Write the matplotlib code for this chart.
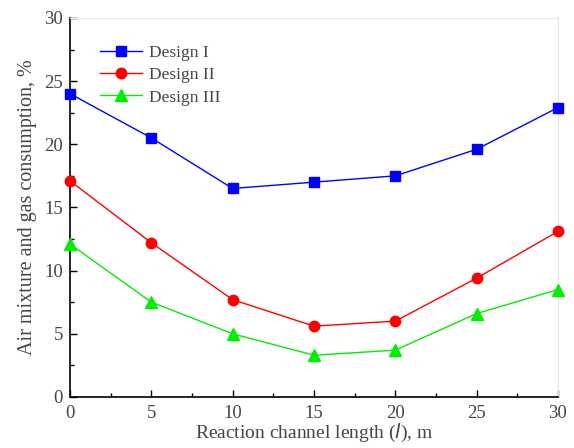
import matplotlib
matplotlib.use("Agg")
import matplotlib.pyplot as plt
from matplotlib.ticker import MultipleLocator

lengths = [0, 5, 10, 15, 20, 25, 30]
design_1 = [24.0, 20.5, 16.5, 17.0, 17.5, 19.6, 22.9]
design_2 = [17.1, 12.2, 7.7, 5.6, 6.0, 9.4, 13.1]
design_3 = [12.1, 7.5, 5.0, 3.3, 3.7, 6.6, 8.5]

plt.rcParams['font.family'] = ['Liberation Serif', 'DejaVu Serif']
txt = '#444444'

fig = plt.figure(figsize=(5.74, 4.48), dpi=100)
ax = fig.add_axes([0.122, 0.114, 0.850, 0.846])

ax.plot(lengths, design_1, color='#0000ff', lw=1, marker='s', ms=7,
        label='Design I', clip_on=False, zorder=3)
ax.plot(lengths, design_2, color='#ff0000', lw=1, marker='o', ms=7.5,
        label='Design II', clip_on=False, zorder=3)
ax.plot(lengths, design_3, color='#00ee00', lw=1, marker='^', ms=8,
        label='Design III', clip_on=False, zorder=3)

ax.set_xlim(0, 30)
ax.set_ylim(0, 30)
ax.xaxis.set_major_locator(MultipleLocator(5))
ax.xaxis.set_minor_locator(MultipleLocator(2.5))
ax.yaxis.set_major_locator(MultipleLocator(5))
ax.yaxis.set_minor_locator(MultipleLocator(2.5))
ax.tick_params(which='both', direction='in', color='black', labelcolor=txt,
               labelsize=13.5, top=False, right=False)
ax.tick_params(which='major', length=5, width=1)
ax.tick_params(which='minor', length=3, width=1)
ax.tick_params(axis='x', which='major', pad=6)
ax.tick_params(axis='y', which='major', pad=5)

for side in ['top', 'right']:
    ax.spines[side].set_color('#e6e6e6')
for side in ['left', 'bottom']:
    ax.spines[side].set_linewidth(1.2)

ax.set_xlabel('Reaction channel length ($\\mathit{l}$), m', fontsize=14,
              color=txt, labelpad=0)
ax.set_ylabel('Air mixture and gas consumption, %', fontsize=14.5,
              color=txt, labelpad=5)

leg = ax.legend(loc='upper left', bbox_to_anchor=(0.03, 0.97), frameon=False,
                fontsize=12.5, handlelength=2.4, handletextpad=0.4,
                labelspacing=0.35)
for t in leg.get_texts():
    t.set_color(txt)

fig.savefig('out.png', dpi=100)
